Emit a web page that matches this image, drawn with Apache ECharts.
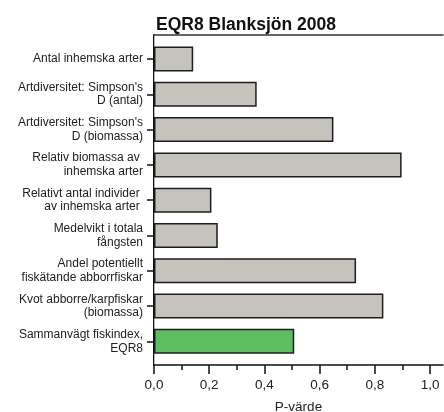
<!DOCTYPE html>
<html>
<head>
<meta charset="utf-8">
<script src="https://cdn.jsdelivr.net/npm/echarts@6/dist/echarts.min.js"></script>
<style>html,body{margin:0;padding:0;background:#fff}#c{width:444px;height:412px}</style>
</head>
<body>
<div id="c"></div>
<script>
const titleText = 'EQR8 Blanksjön 2008';
const categories = [
  'Antal inhemska arter',
  "Artdiversitet: Simpson's\nD (antal)",
  "Artdiversitet: Simpson's\nD (biomassa)",
  'Relativ biomassa av \ninhemska arter',
  'Relativt antal individer \nav inhemska arter ',
  'Medelvikt i totala\nfångsten',
  'Andel potentiellt\nfiskätande abborrfiskar',
  'Kvot abborre/karpfiskar\n(biomassa)',
  'Sammanvägt fiskindex,\nEQR8'
];
const pValues = [0.142, 0.372, 0.650, 0.897, 0.208, 0.231, 0.732, 0.831, 0.508];
const highlightIndex = 8;
const majorTicks = [0, 0.2, 0.4, 0.6, 0.8, 1.0];
const minorTicks = [0.1, 0.3, 0.5, 0.7, 0.9];
const xAxisName = 'P-värde';
const xMax = 1.047;

const FONT = 'Liberation Sans, Arial, sans-serif';
const chart = echarts.init(document.getElementById('c'), null, {renderer: 'canvas'});
chart.setOption({
  animation: false,
  title: {
    text: titleText, left: 241, top: 11, textAlign: 'center',
    textStyle: {fontFamily: FONT, fontSize: 17.5, fontWeight: 'bold', color: '#111'}
  },
  grid: [
    {left: 154, right: 1, top: 35, bottom: 47, containLabel: false, outerBoundsMode: 'none'},
    {left: 154, right: 1, top: 41.4, bottom: 53, containLabel: false, outerBoundsMode: 'none'}
  ],
  xAxis: [
    { // bottom value axis (frame)
      gridIndex: 0, type: 'value', min: 0, max: xMax, position: 'bottom',
      axisLine: {show: true, lineStyle: {color: '#111', width: 1.5}},
      axisTick: {show: true, length: 9, customValues: majorTicks, lineStyle: {color: '#111', width: 1.5}},
      axisLabel: {show: true, customValues: majorTicks, margin: 13, fontFamily: FONT, fontSize: 13.5, color: '#222',
        formatter: v => v.toFixed(1).replace('.', ',')},
      splitLine: {show: false},
      name: xAxisName, nameLocation: 'middle', nameGap: 35,
      nameTextStyle: {fontFamily: FONT, fontSize: 13.5, color: '#222'}
    },
    { // minor ticks
      gridIndex: 0, type: 'value', min: 0, max: xMax, position: 'bottom',
      axisLine: {show: false},
      axisTick: {show: true, length: 5, customValues: minorTicks, lineStyle: {color: '#111', width: 1.5}},
      axisLabel: {show: false}, splitLine: {show: false}
    },
    { // top frame line
      gridIndex: 0, type: 'value', min: 0, max: xMax, position: 'top',
      axisLine: {show: true, lineStyle: {color: '#333', width: 1.5}},
      axisTick: {show: false}, axisLabel: {show: false}, splitLine: {show: false}
    },
    { // bar scale
      gridIndex: 1, type: 'value', min: 0, max: xMax, show: false
    }
  ],
  yAxis: [
    {
      gridIndex: 0, type: 'value', min: 0, max: 1, position: 'left',
      axisLine: {show: true, lineStyle: {color: '#111', width: 2}},
      axisTick: {show: false}, axisLabel: {show: false}, splitLine: {show: false}
    },
    {
      gridIndex: 0, type: 'value', min: 0, max: 1, position: 'right',
      axisLine: {show: true, lineStyle: {color: '#bbb', width: 1}},
      axisTick: {show: false}, axisLabel: {show: false}, splitLine: {show: false}
    },
    {
      gridIndex: 1, type: 'category', data: categories, inverse: true,
      axisLine: {show: false},
      axisTick: {show: true, alignWithLabel: true, length: 7, lineStyle: {color: '#111', width: 1.5}},
      axisLabel: {margin: 11, fontFamily: FONT, fontSize: 12, lineHeight: 13.7, color: '#222', align: 'right'},
      splitLine: {show: false}
    }
  ],
  series: [{
    type: 'bar', xAxisIndex: 3, yAxisIndex: 2,
    data: pValues, barWidth: 25,
    itemStyle: {
      color: p => p.dataIndex === highlightIndex ? '#5dbd62' : '#c6c2bc',
      borderColor: '#1e1e1e', borderWidth: 1.5
    },
    z: 1
  }]
});
</script>
</body>
</html>
